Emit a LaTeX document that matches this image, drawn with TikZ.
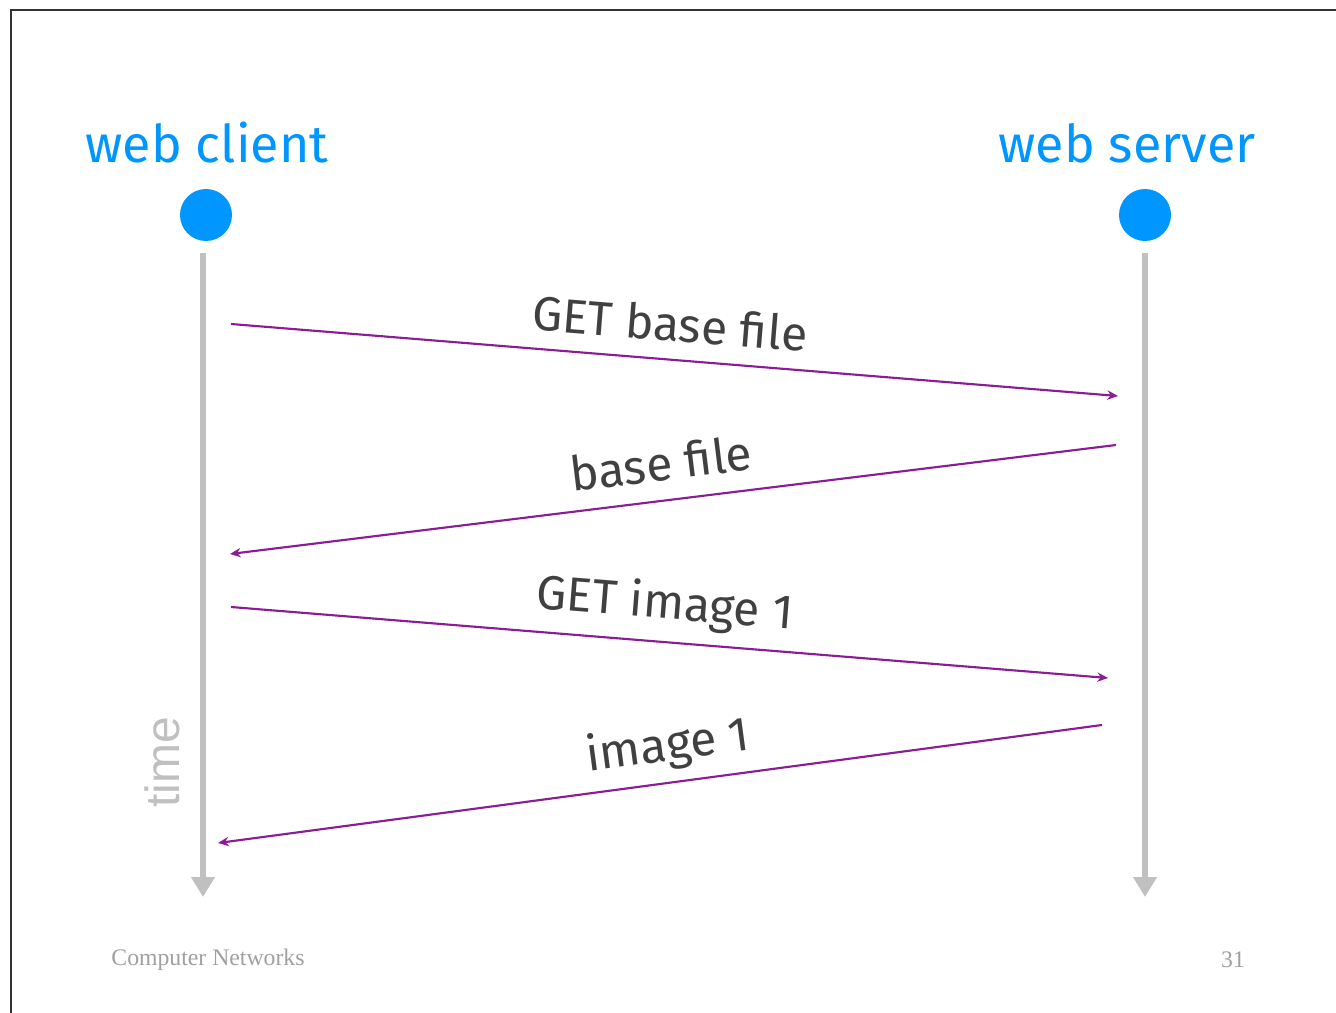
\documentclass[tikz,border=0pt]{standalone}
\usepackage{fontspec}
\setmainfont{Liberation Serif}
\newfontfamily\handfont{Fira Sans}
\newfontfamily\helvfont{Liberation Sans}
\usetikzlibrary{arrows.meta}

\definecolor{hostblue}{RGB}{0,150,255}
\definecolor{timegray}{RGB}{192,192,192}
\definecolor{msgpurple}{RGB}{140,28,150}
\definecolor{labelgray}{RGB}{64,64,64}
\definecolor{footgray}{RGB}{160,160,160}

\tikzset{every picture/.style={line width=0.75pt}}
\tikzset{
  host/.style={circle,fill=hostblue,inner sep=0pt,minimum size=39pt},
  hostname/.style={text=hostblue,font=\handfont\fontsize{39}{42}\selectfont},
  timeline/.style={draw=timegray,line width=4pt,-{Triangle[length=15pt,width=17pt]}},
  msg/.style={draw=msgpurple,line width=1.6pt,-{Stealth[length=8pt,width=7pt]}},
  msglabel/.style={text=labelgray,font=\handfont\fontsize{36}{40}\selectfont,inner sep=0pt},
  foot/.style={text=footgray,font=\fontsize{17.8}{21}\selectfont}
}

\begin{document}
\begin{tikzpicture}[x=0.75pt,y=0.75pt,yscale=-1,xscale=1]
\useasboundingbox (0,0) rectangle (1336,1013);

%Shape: Frame
\draw [color={rgb, 255:red, 50; green, 50; blue, 50 }, line width=1pt] (11,1013) -- (11,10) -- (1336,10) ;

%Shape: Circle
\node [host] (client) at (206,215) {};
\node [host] (server) at (1145,215) {};

% Text Node
\node [hostname] (clientname) at (207,143) {web client};
\node [hostname] (servername) at (1127,143) {web server};

%Straight Lines
\coordinate (ctop) at (203,253);
\coordinate (cbot) at (203,897);
\coordinate (stop) at (1145,253);
\coordinate (sbot) at (1145,897);
\draw [timeline] (ctop) -- (cbot) ;
\draw [timeline] (stop) -- (sbot) ;

% Text Node
\node [text=timegray,font=\helvfont\fontsize{36}{40}\selectfont,rotate=90] (time) at (162,762) {time};

%Straight Lines
\coordinate (m1a) at (231,324);
\coordinate (m1b) at (1118,396);
\coordinate (m2a) at (1116,445);
\coordinate (m2b) at (230,554);
\coordinate (m3a) at (231,607);
\coordinate (m3b) at (1108,678);
\coordinate (m4a) at (1102,725);
\coordinate (m4b) at (218,843);
\draw [msg] (m1a) -- (m1b) ;
\draw [msg] (m2a) -- (m2b) ;
\draw [msg] (m3a) -- (m3b) ;
\draw [msg] (m4a) -- (m4b) ;

% Text Node
\node [msglabel,rotate=-4.6] (l1) at (670,323) {GET base file};
\node [msglabel,rotate=7.0] (l2) at (661,463) {base file};
\node [msglabel,rotate=-4.6] (l3) at (665,605) {GET image 1};
\node [msglabel,rotate=7.6] (l4) at (668,747) {image 1};

% Text Node
\node [foot] (course) at (208,960) {Computer Networks};
\node [foot] (page) at (1233,960) {31};

\end{tikzpicture}
\end{document}
